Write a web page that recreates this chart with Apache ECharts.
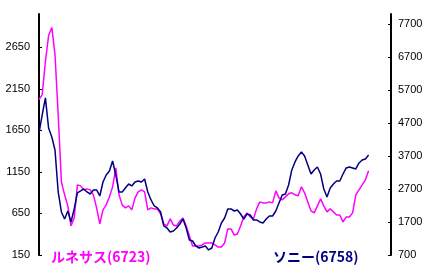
<!DOCTYPE html>
<html>
<head>
<meta charset="utf-8">
<script src="https://cdn.jsdelivr.net/npm/echarts@6/dist/echarts.min.js"></script>
<style>html,body{margin:0;padding:0;background:#fff}#c{width:430px;height:272px}</style>
</head>
<body>
<div id="c"></div>
<script>
var renesasName = 'ルネサス(6723)';
var sonyName = 'ソニー(6758)';
var leftTicks = [150, 650, 1150, 1650, 2150, 2650];
var rightTicks = [700, 1700, 2700, 3700, 4700, 5700, 6700, 7700];
var renesas = [2019,2080,2478,2791,2888,2562,1838,1030,874,741,500,596,994,982,934,946,934,874,717,524,
693,753,849,970,1199,874,753,717,741,693,837,910,934,910,693,717,705,705,644,524,
500,584,512,500,560,596,500,379,259,259,259,271,295,295,295,271,246,246,295,464,
464,391,403,500,608,657,608,584,705,789,777,777,789,777,922,837,813,849,886,898,
874,862,970,898,789,681,657,741,825,741,669,705,669,632,632,548,608,608,657,874,
934,994,1055,1163];
var sony = [4397,4942,5457,4548,4275,3882,2609,2003,1791,2033,1700,2094,2579,2639,2700,2609,2548,2670,2670,2488,
2912,3124,3245,3548,3124,2609,2609,2730,2851,2791,2912,2942,2912,3003,2609,2367,2185,2124,2003,1579,
1518,1397,1427,1518,1639,1791,1518,1155,1124,973,912,942,973,852,912,1215,1397,1670,1821,2094,
2094,2033,2064,1942,1791,1942,1912,1761,1761,1700,1670,1791,1882,1882,2033,2276,2518,2548,2821,3276,
3518,3700,3821,3700,3427,3154,3276,3366,3154,2700,2457,2730,2851,2942,2942,3154,3336,3366,3336,3306,
3488,3579,3609,3730];
var nCats = 111;
var categories = [];
for (var i = 0; i < nCats; i++) categories.push(String(i));

var chart = echarts.init(document.getElementById('c'), null, {renderer: 'canvas'});
function plain(v) { return String(Math.round(v)); }
var labelFont = {fontFamily: 'Liberation Sans', fontSize: 11, color: '#000', formatter: plain};
chart.setOption({
  animation: false,
  backgroundColor: '#fff',
  grid: {left: 39, right: 39, top: 14, bottom: 17, containLabel: false},
  xAxis: {type: 'category', data: categories, boundaryGap: false, show: false},
  yAxis: [
    {type: 'value', min: 150, max: 3050, position: 'left',
     axisLine: {show: true, lineStyle: {color: '#000', width: 2}},
     axisTick: {show: true, inside: true, length: 3, lineStyle: {color: '#000', width: 1}, customValues: leftTicks},
     axisLabel: Object.assign({margin: 9, customValues: leftTicks}, labelFont),
     splitLine: {show: false}},
    {type: 'value', min: 700, max: 8000, position: 'right',
     axisLine: {show: true, lineStyle: {color: '#000', width: 2}},
     axisTick: {show: true, inside: true, length: 3, lineStyle: {color: '#000', width: 1}, customValues: rightTicks},
     axisLabel: Object.assign({margin: 7, customValues: rightTicks}, labelFont),
     splitLine: {show: false}}
  ],
  series: [
    {name: renesasName, type: 'line', yAxisIndex: 0, data: renesas, showSymbol: false,
     lineStyle: {color: '#ff00ff', width: 1.5}, itemStyle: {color: '#ff00ff'}, z: 2},
    {name: sonyName, type: 'line', yAxisIndex: 1, data: sony, showSymbol: false,
     lineStyle: {color: '#000080', width: 1.5}, itemStyle: {color: '#000080'}, z: 3}
  ],
  graphic: [
    {type: 'text', left: 51, top: 250, style: {text: renesasName, fill: '#ff00ff', font: 'bold 14px "Noto Sans CJK JP"'}},
    {type: 'text', left: 273, top: 250, style: {text: sonyName, fill: '#000080', font: 'bold 14px "Noto Sans CJK JP"'}}
  ]
});
</script>
</body>
</html>
